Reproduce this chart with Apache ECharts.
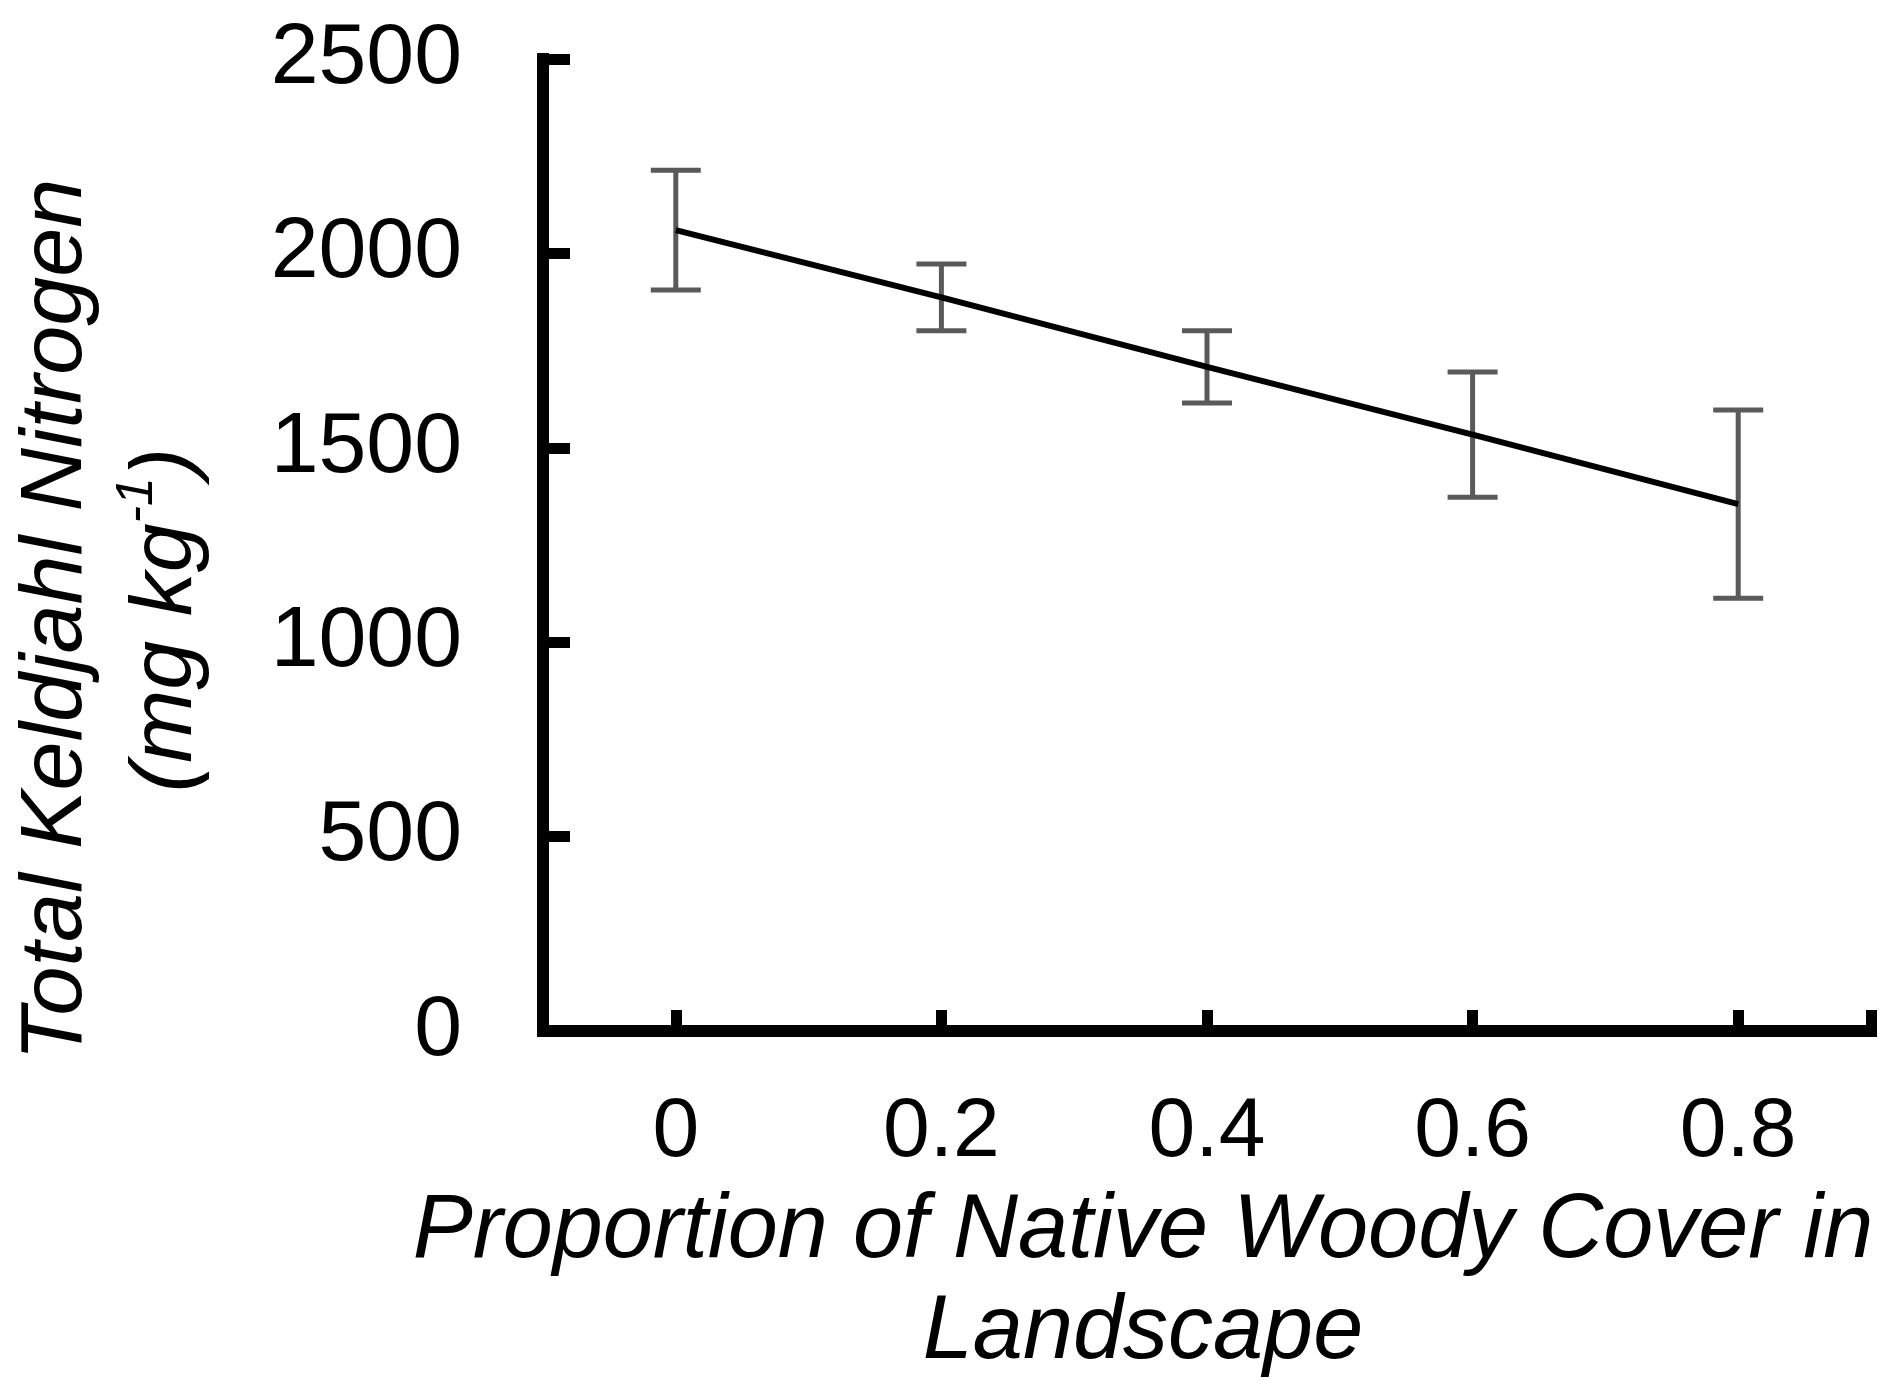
<!DOCTYPE html>
<html>
<head>
<meta charset="utf-8">
<script src="https://cdn.jsdelivr.net/npm/echarts@6/dist/echarts.min.js"></script>
<style>
  html, body { margin: 0; padding: 0; background: #ffffff; }
  #chart { width: 1879px; height: 1382px; }
</style>
</head>
<body>
<div id="chart"></div>
<script>
// Data
const xValues = [0, 0.2, 0.4, 0.6, 0.8];
const means = [2060, 1887, 1708, 1534, 1355];
const errors = [154, 86, 93, 161, 242];
const xTickValues = [0, 0.2, 0.4, 0.6, 0.8, 0.9];
const xLabelValues = [0, 0.2, 0.4, 0.6, 0.8];
const yMin = 0, yMax = 2500, yStep = 500;

const FONT = '"Liberation Sans", Arial, Helvetica, sans-serif';

const lineData = xValues.map((x, i) => [x, means[i]]);
const errData = xValues.map((x, i) => [x, means[i] - errors[i], means[i] + errors[i]]);

const chart = echarts.init(document.getElementById('chart'), null, { renderer: 'canvas' });

chart.setOption({
  backgroundColor: '#ffffff',
  animation: false,
  grid: { left: 543, right: 8, top: 59, bottom: 351, containLabel: false, outerBoundsMode: 'none' },
  xAxis: {
    type: 'value',
    min: -0.1,
    max: 0.9,
    name: 'Proportion of Native Woody Cover in\nLandscape',
    nameLocation: 'middle',
    nameGap: 150,
    nameTextStyle: {
      fontFamily: FONT, fontSize: 90, fontStyle: 'italic', color: '#000',
      lineHeight: 101, padding: [0, 128, 0, 0]
    },
    axisLine: { show: true, onZero: false, lineStyle: { color: '#000', width: 12, cap: 'square' } },
    axisTick: { show: true, inside: true, length: 21, customValues: xTickValues,
      lineStyle: { color: '#000', width: 11 } },
    axisLabel: { show: true, customValues: xLabelValues, margin: 60,
      fontFamily: FONT, fontSize: 84, color: '#000',
      formatter: v => String(+(+v).toFixed(1)) },
    splitLine: { show: false }
  },
  yAxis: {
    type: 'value',
    min: yMin, max: yMax, interval: yStep,
    name: 'Total Keldjahl Nitrogen\n(mg kg{sup|-1})',
    nameLocation: 'middle',
    nameRotate: 90,
    nameGap: 321,
    nameTextStyle: {
      fontFamily: FONT, fontSize: 88, fontStyle: 'italic', color: '#000',
      lineHeight: 110, padding: [0, 150, 0, 0],
      rich: {
        sup: { fontFamily: FONT, fontSize: 52, fontStyle: 'italic', color: '#000',
          lineHeight: 52, verticalAlign: 'top' }
      }
    },
    axisLine: { show: true, onZero: false, lineStyle: { color: '#000', width: 12, cap: 'square' } },
    axisTick: { show: true, inside: true, length: 27, lineStyle: { color: '#000', width: 11 } },
    axisLabel: { margin: 81, fontFamily: FONT, fontSize: 86, color: '#000',
      formatter: v => String(v) },
    splitLine: { show: false }
  },
  series: [
    {
      type: 'custom',
      name: 'error',
      data: errData,
      z: 2,
      renderItem: function (params, api) {
        const x = api.value(0);
        const lo = api.coord([x, api.value(1)]);
        const hi = api.coord([x, api.value(2)]);
        const hw = 25;
        const style = { stroke: '#5a5a5a', lineWidth: 5 };
        return {
          type: 'group',
          children: [
            { type: 'line', shape: { x1: hi[0], y1: hi[1], x2: lo[0], y2: lo[1] }, style },
            { type: 'line', shape: { x1: hi[0] - hw, y1: hi[1], x2: hi[0] + hw, y2: hi[1] }, style },
            { type: 'line', shape: { x1: lo[0] - hw, y1: lo[1], x2: lo[0] + hw, y2: lo[1] }, style }
          ]
        };
      }
    },
    {
      type: 'line',
      name: 'mean',
      data: lineData,
      z: 3,
      symbol: 'none',
      lineStyle: { color: '#000', width: 6 }
    }
  ]
});
</script>
</body>
</html>
